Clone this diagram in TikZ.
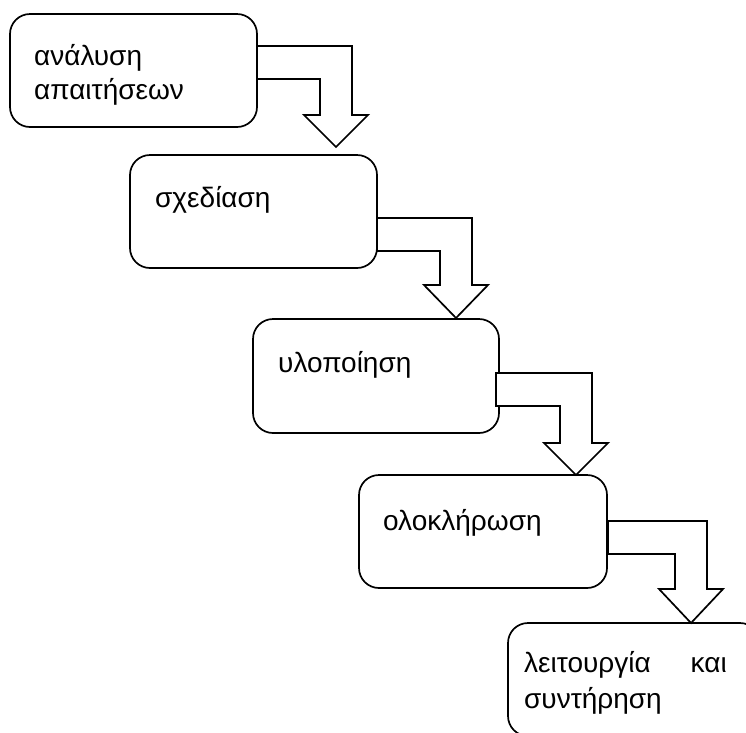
\documentclass[tikz,border=0pt]{standalone}
\usepackage{fontspec}
\setmainfont{Liberation Sans}
\newcommand{\bendarrow}[6]{% name, L, T, O, H, Y
  \draw[arrowshape] (#2,#3) coordinate (#1) -- (#4,#3) -- (#4,#5) -- (#4+16,#5) -- (#4-16,#6)
    -- (#4-48,#5) -- (#4-32,#5) -- (#4-32,#3+33) -- (#2,#3+33) -- cycle;}
\begin{document}
\begin{tikzpicture}[x=1pt,y=-1pt,
  stagebox/.style={draw,line width=1.7pt,rounded corners=20pt,rectangle,anchor=north west,inner sep=0pt,outer sep=0pt,minimum height=113pt},
  arrowshape/.style={draw,line width=1.7pt,fill=white,line join=miter},
  label/.style={anchor=base west,inner sep=0pt,font=\fontsize{28}{35}\selectfont}]
\useasboundingbox (0,0) rectangle (746,732);
\clip (0,0) rectangle (746,732);
\node[stagebox,minimum width=247pt] (b1) at (10,14) {};
\node[stagebox,minimum width=247pt] (b2) at (130,155) {};
\node[stagebox,minimum width=246pt,minimum height=114pt] (b3) at (253,319) {};
\node[stagebox,minimum width=248pt] (b4) at (359,475) {};
\node[stagebox,minimum width=252pt] (b5) at (508,623) {};
\bendarrow{a1}{257}{46}{352}{115}{147}
\bendarrow{a2}{377}{218}{472}{285}{318}
\bendarrow{a3}{496}{373}{592}{443}{475}
\bendarrow{a4}{608}{521}{707}{589}{623}
\node[label] (t1a) at (34,65) {ανάλυση};
\node[label] (t1b) at (34,99) {απαιτήσεων};
\node[label] (t2) at (155,207) {σχεδίαση};
\node[label] (t3) at (278,372) {υλοποίηση};
\node[label] (t4) at (383,530) {ολοκλήρωση};
\node[label] (t5a) at (524,672) {λειτουργία};
\node[label,anchor=base east] (t5b) at (727,672) {και};
\node[label] (t5c) at (524,708) {συντήρηση};
\end{tikzpicture}
\end{document}
